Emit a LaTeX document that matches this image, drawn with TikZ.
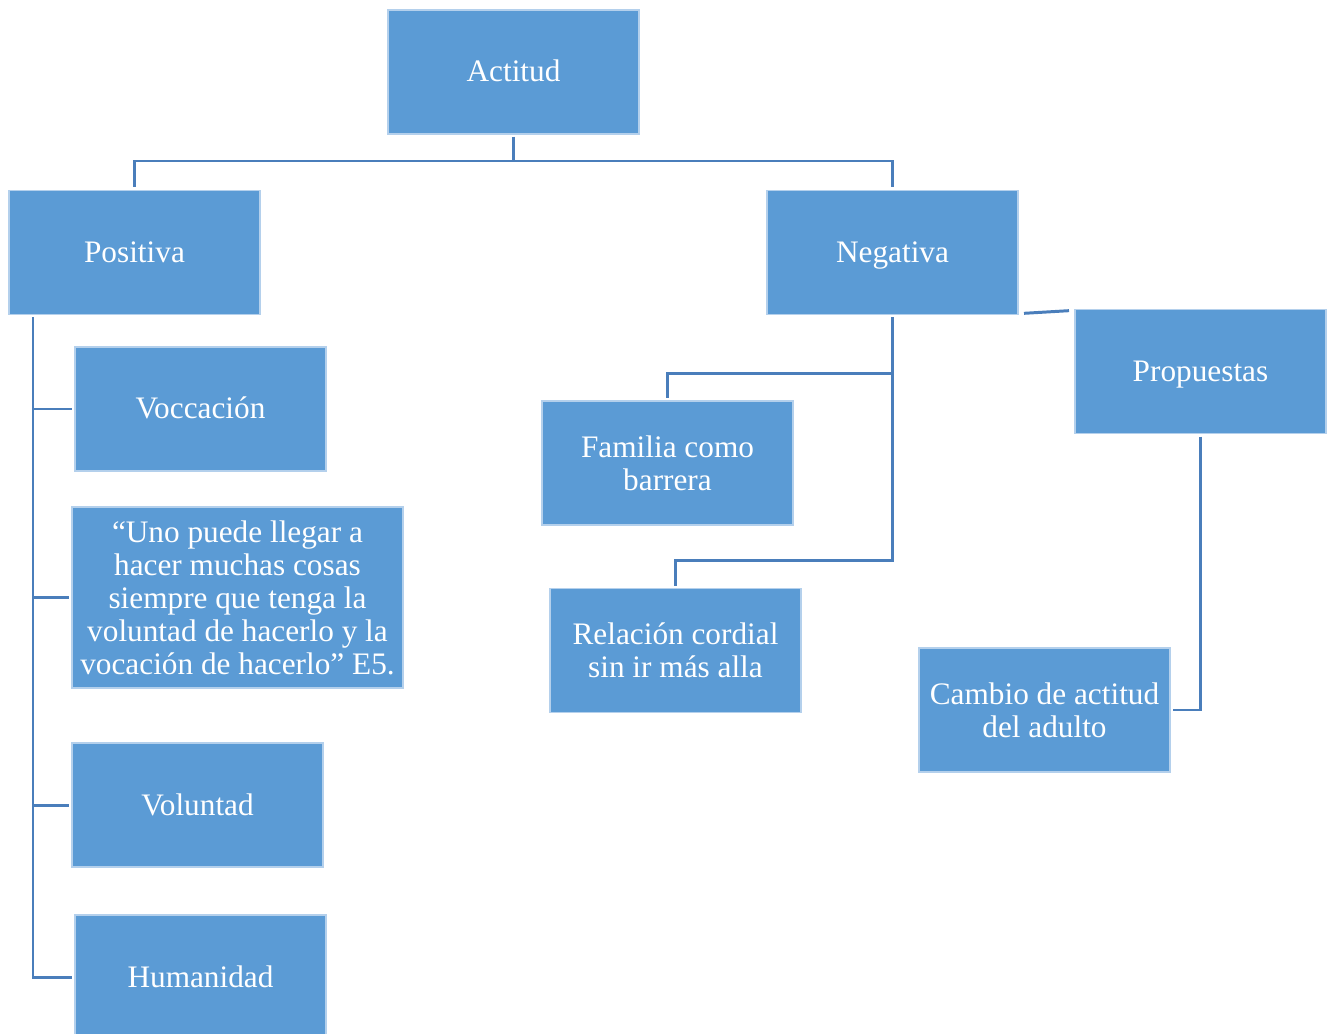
\documentclass[tikz,border=0pt]{standalone}
\usepackage{fontspec}
\setmainfont{Liberation Serif}
\usetikzlibrary{positioning}

\definecolor{cajaazul}{HTML}{5B9BD5}
\definecolor{bordeazul}{HTML}{B4D0EC}
\definecolor{lineaazul}{HTML}{4A7EBB}

\tikzset{
  caja/.style={
    fill=cajaazul, draw=bordeazul, line width=0.3pt,
    text=white, align=center,
    minimum width=2.51cm, minimum height=1.24cm,
    inner sep=0pt, outer sep=0pt,
    font=\fontsize{8.9}{9.4}\selectfont,
  },
  unalinea/.style={caja, text height=0.27cm, text depth=0.07cm},
  rama/.style={
    draw=lineaazul, line width=0.85pt,
    shorten <=0.03cm, shorten >=0.03cm,
  },
}

\begin{document}
\begin{tikzpicture}

\useasboundingbox (0,0) rectangle (13.34,-10.34);

\node[unalinea] (actitud) at (5.135,-0.72) {Actitud};

\node[unalinea] (positiva) at (1.345,-2.525) {Positiva};
\node[unalinea] (negativa) at (8.925,-2.525) {Negativa};
\node[unalinea] (propuestas) at (12.005,-3.715) {Propuestas};

\node[unalinea] (voccacion) at (2.005,-4.09) {Voccación};
\node[caja, minimum width=3.31cm, minimum height=1.81cm] (cita) at (2.375,-5.975)
  {“Uno puede llegar a\\hacer muchas cosas\\siempre que tenga la\\voluntad de hacerlo y la\\vocación de hacerlo” E5.};
\node[unalinea] (voluntad) at (1.975,-8.05) {Voluntad};
\node[unalinea] (humanidad) at (2.005,-9.77) {Humanidad};

\node[caja] (familia) at (6.675,-4.63) {Familia como\\barrera};
\node[caja] (relacion) at (6.755,-6.505) {Relación cordial\\sin ir más alla};

\node[caja] (cambio) at (10.445,-7.10) {Cambio de actitud\\del adulto};

% actitud -> positiva / negativa
\draw[rama] (actitud.south) -- ++(0,-0.27) -| (positiva.north);
\draw[rama] (actitud.south) -- ++(0,-0.27) -| (negativa.north);

% positiva
\coordinate (eje) at ([xshift=0.24cm]positiva.south west);
\draw[rama] (eje) |- (humanidad.west);
\foreach \n in {voccacion,cita,voluntad}
  \draw[rama, shorten <=0pt] (eje |- \n.west) -- (\n.west);

% negativa
\draw[rama] (negativa.south) -- ++(0,-0.59) -| (familia.north);
\draw[rama] (negativa.south) -- ++(0,-2.46) -| (relacion.north);
\draw[rama] ([xshift=0.03cm,yshift=0.01cm]negativa.south east) -- ([xshift=-0.03cm,yshift=-0.01cm]propuestas.north west);

% propuestas
\draw[rama] (propuestas.south) |- (cambio.east);

\end{tikzpicture}
\end{document}
